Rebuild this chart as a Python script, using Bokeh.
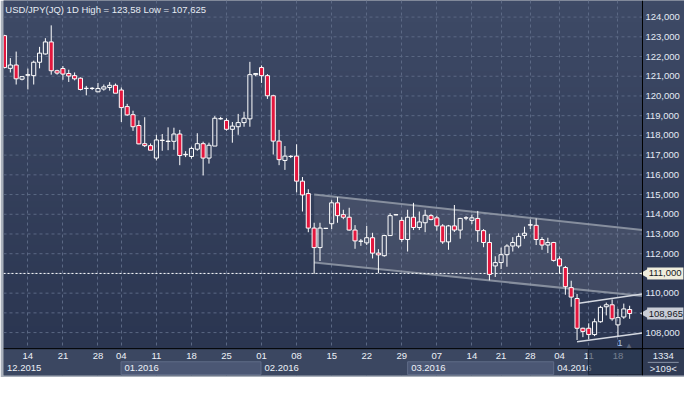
import numpy as np
from bokeh.plotting import figure
from bokeh.models import Range1d, FixedTicker, Span, Label
from bokeh.core.properties import value
from bokeh.embed import file_html
from bokeh.resources import INLINE

# ---------------- data ----------------
opens = [123.06, 121.40, 121.57, 120.85, 121.05, 121.03, 121.71, 122.13, 122.74, 121.28,
         121.39, 121.14, 121.03, 120.90, 120.38, 120.38, 120.21, 120.35, 120.43, 120.54,
         120.30, 119.46, 119.05, 118.50, 117.58, 117.48, 116.85, 117.74, 117.69, 117.70,
         118.07, 117.02, 116.93, 117.30, 117.58, 116.85, 117.46, 118.84, 118.76, 118.31,
         118.44, 118.65, 118.84, 121.08, 121.44, 121.03, 120.01, 117.71, 116.73, 116.93,
         116.95, 115.68, 115.05, 113.30, 112.31, 113.28, 113.52, 114.58, 113.98, 113.85,
         113.20, 112.63, 112.55, 112.81, 112.03, 111.90, 112.92, 113.97, 113.69, 112.72,
         113.85, 113.33, 113.57, 113.93, 113.82, 113.41, 112.60, 113.41, 113.20, 113.81,
         113.69, 113.79, 113.17, 112.57, 111.38, 111.55, 111.95, 112.39, 112.39, 112.93,
         113.45, 113.44, 112.72, 112.44, 112.57, 111.74, 111.30, 110.28, 109.73, 108.22,
         108.22, 107.90, 108.55, 109.31, 109.41, 108.39, 108.79, 109.17]
highs = [123.10, 121.92, 122.25, 120.98, 121.39, 121.79, 122.49, 122.93, 123.58, 121.33,
         121.52, 121.33, 121.19, 120.94, 120.51, 120.45, 120.66, 120.58, 120.70, 120.63,
         120.43, 119.60, 119.25, 118.76, 118.92, 117.59, 118.03, 118.07, 118.41, 118.39,
         118.28, 117.20, 117.43, 118.11, 117.68, 117.63, 118.98, 118.94, 118.87, 118.68,
         119.09, 119.20, 121.73, 121.14, 121.55, 121.11, 120.06, 118.28, 117.46, 117.00,
         117.55, 115.89, 115.27, 113.57, 113.57, 113.30, 114.71, 114.87, 114.23, 114.33,
         113.45, 112.75, 113.41, 113.06, 112.23, 112.96, 114.05, 114.00, 113.85, 114.23,
         114.58, 114.14, 114.23, 114.00, 113.93, 113.50, 113.46, 114.47, 113.82, 113.90,
         113.98, 114.17, 113.25, 113.01, 111.87, 112.31, 112.48, 112.84, 113.04, 113.37,
         113.74, 113.79, 112.84, 112.81, 112.60, 111.87, 111.38, 110.63, 109.96, 108.25,
         108.47, 108.71, 109.36, 109.52, 109.68, 109.20, 109.47, 109.36]
lows = [121.40, 121.19, 120.58, 120.79, 120.33, 120.58, 121.40, 122.10, 121.08, 121.08,
        120.82, 120.71, 120.79, 120.28, 120.03, 120.30, 120.21, 120.27, 120.27, 120.14,
        118.68, 118.99, 118.23, 117.55, 117.41, 117.25, 116.73, 117.22, 117.25, 117.27,
        116.49, 116.90, 116.82, 117.22, 115.97, 116.57, 117.46, 118.80, 118.24, 117.63,
        118.03, 118.44, 118.44, 121.00, 120.66, 119.85, 117.03, 116.49, 116.25, 116.85,
        115.11, 114.14, 113.09, 110.98, 111.63, 113.25, 113.25, 113.57, 113.75, 113.17,
        112.25, 112.40, 112.44, 111.76, 111.01, 111.85, 112.90, 113.95, 112.60, 112.11,
        113.20, 113.20, 113.09, 113.69, 113.17, 112.50, 112.20, 113.10, 112.76, 113.70,
        113.50, 112.60, 112.33, 110.65, 110.82, 111.22, 111.34, 112.11, 112.28, 112.76,
        113.25, 112.44, 112.20, 112.03, 111.60, 110.98, 109.92, 109.31, 107.625, 107.77,
        107.66, 107.82, 108.50, 108.87, 108.60, 107.82, 108.70, 108.70]
closes = [121.44, 121.57, 120.87, 120.98, 121.08, 121.71, 122.17, 122.74, 121.28, 121.16,
          121.11, 121.01, 120.87, 120.33, 120.39, 120.39, 120.38, 120.46, 120.54, 120.14,
          119.41, 119.04, 118.44, 117.57, 117.48, 117.25, 117.77, 117.76, 117.71, 118.07,
          116.98, 117.04, 117.34, 117.58, 116.85, 117.50, 118.87, 118.85, 118.31, 118.47,
          118.65, 118.87, 121.08, 121.14, 121.03, 120.01, 117.71, 116.77, 116.95, 116.94,
          115.68, 114.98, 113.30, 112.31, 113.30, 113.29, 114.58, 113.93, 113.85, 113.20,
          112.65, 112.64, 112.81, 112.03, 111.94, 112.92, 113.93, 113.98, 112.72, 113.85,
          113.33, 113.61, 113.95, 113.74, 113.41, 112.60, 113.41, 113.20, 113.79, 113.82,
          113.82, 113.17, 112.57, 110.95, 111.55, 111.95, 112.39, 112.57, 112.88, 113.04,
          113.47, 112.72, 112.44, 112.57, 111.66, 111.38, 110.33, 109.80, 108.22, 108.06,
          107.90, 108.55, 109.28, 109.41, 108.70, 108.76, 109.20, 108.965]

day_ticks = [4, 10, 16, 20, 26, 32, 38, 44, 50, 56, 62, 68, 74, 80, 85, 90, 95, 100, 105]
day_labels = ["14", "21", "28", "04", "11", "18", "25", "01", "08", "15", "22", "29",
              "07", "14", "21", "28", "04", "11", "18"]
month_starts = [-0.17, 19.95, 43.9, 69.0, 94.0]
month_labels = ["12.2015", "01.2016", "02.2016", "03.2016", "04.2016"]
price_ticks = list(range(108, 125))
price_labels = [f"{t},000" for t in price_ticks]

level_line = 111.0
last_price = 108.965
tag_values = [level_line, last_price]
tag_texts = ["111,000", "108,965"]
tag_colors = ["#efeddd", "#c9cdd6"]
bars_count = "1334"
bars_range = ">109<"

chan_x = [53.0, 109.2]
chan_upper = [115.00, 113.20]
chan_lower = [111.55, 109.85]
small_x = [98.0, 109.2]
small_upper = [109.47, 109.96]
small_lower = [107.53, 107.98]

# ---------------- figure ----------------
X0, X1, XR = -0.17, 109.2, 116.39          # left edge, price-axis line, right edge
YB, YS, YT = 105.824, 107.186, 124.841      # bottom, date-strip top, top

FONT = "Liberation Sans"
p = figure(width=684, height=377, x_range=Range1d(X0, XR), y_range=Range1d(YB, YT),
           x_axis_location=None, y_axis_location=None, toolbar_location=None,
           output_backend="svg", min_border_left=3, min_border_right=0,
           min_border_top=0, min_border_bottom=2)
p.background_fill_color = "#34405b"
p.border_fill_color = "#a9b0bb"
p.outline_line_color = None

# gradient background
n = 64
img = np.empty((n, 2), dtype=np.uint32)
view = img.view(dtype=np.uint8).reshape((n, 2, 4))
top_c = np.array([62, 74, 102])
bot_c = np.array([43, 54, 81])
for i in range(n):
    t = i / (n - 1)
    c = bot_c + (top_c - bot_c) * t
    view[i, :, 0] = int(c[0]); view[i, :, 1] = int(c[1]); view[i, :, 2] = int(c[2]); view[i, :, 3] = 255
p.image_rgba(image=[img], x=X0, y=YS, dw=XR - X0, dh=YT - YS, level="image")

# grids
p.ygrid.visible = False
p.xgrid.ticker = FixedTicker(ticks=day_ticks)
p.xgrid.grid_line_color = "#5b6884"
p.xgrid.grid_line_dash = "3 3"
p.segment(x0=X0, y0=price_ticks, x1=X1, y1=price_ticks, line_color="#5b6884",
          line_dash="3 3", line_width=1)

# price axis labels
p.text(x=109.7, y=price_ticks, text=price_labels, text_font=value(FONT),
       text_font_size="9.5px", text_color="#e4eaf4", text_align="left", text_baseline="middle")

# channel
p.varea(x=chan_x, y1=chan_lower, y2=chan_upper, fill_color="#b4b8c0", fill_alpha=0.15)
p.line(chan_x, chan_upper, line_color="#9aa1ae", line_width=2, line_alpha=0.8)
p.line(chan_x, chan_lower, line_color="#9aa1ae", line_width=2, line_alpha=0.8)
p.line(small_x, small_upper, line_color="#d4d8e0", line_width=1.5)
p.line(small_x, small_lower, line_color="#d4d8e0", line_width=1.5)

# level line
p.segment(x0=X0, y0=level_line, x1=X1, y1=level_line, line_color="white",
          line_dash="2 2", line_width=1)

# candles
xs = list(range(len(opens)))
btop = [max(o, c) for o, c in zip(opens, closes)]
bbot = [min(o, c) for o, c in zip(opens, closes)]
p.segment(xs, highs, xs, btop, line_color="white", line_width=1)
p.segment(xs, bbot, xs, lows, line_color="white", line_width=1)
up = [i for i in xs if closes[i] >= opens[i]]
dn = [i for i in xs if closes[i] < opens[i]]
p.vbar(x=up, top=[btop[i] for i in up], bottom=[bbot[i] for i in up], width=0.7,
       fill_color=None, line_color="white", line_width=1)
p.vbar(x=dn, top=[btop[i] for i in dn], bottom=[bbot[i] for i in dn], width=0.7,
       fill_color="#e3173e", line_color="white", line_width=1)

# marker near the end
p.text(x=[105.35], y=[107.45], text=["1"], text_font=value(FONT), text_font_size="9.5px",
       text_color="#a9c8ee", text_align="center", text_baseline="middle")
p.text(x=[106.9], y=[107.33], text=["▲"], text_font=value("DejaVu Sans"), text_font_size="7px",
       text_color="#5b6579", text_align="center", text_baseline="middle")

# date strip
p.quad(left=X0, right=X1, bottom=YB, top=YS, fill_color="#3b4761", line_color=None)
p.quad(left=X1, right=XR, bottom=YB, top=YS, fill_color="#303b54", line_color=None)
band_bot, band_top = 105.87, 106.52
p.quad(left=[month_starts[1], month_starts[3]], right=[month_starts[2], month_starts[4]],
       bottom=band_bot, top=band_top, fill_color="#4b5774", line_color="#606c88", line_width=1)
p.text(x=day_ticks, y=106.80, text=day_labels, text_font=value(FONT), text_font_size="9.5px",
       text_color="#edf1f7", text_align="center", text_baseline="middle")
p.text(x=[m + 0.6 for m in month_starts], y=106.18, text=month_labels, text_font=value(FONT),
       text_font_size="9.5px", text_color="#edf1f7", text_align="left", text_baseline="middle")
p.quad(left=99.95, right=X1 - 0.1, bottom=105.87, top=107.15, fill_color="#223047",
       fill_alpha=0.6, line_color="#1d273a", line_width=1)

# separators (axis lines)
p.add_layout(Span(location=YS, dimension="width", line_color="black", line_width=1))
p.add_layout(Span(location=X1, dimension="height", line_color="black", line_width=1))

# title
p.add_layout(Label(x=0.15, y=124.40, text="USD/JPY(JQ) 1D High = 123,58 Low = 107,625",
                   text_font=FONT, text_font_size="9.5px", text_color="#e6ebf3",
                   text_baseline="middle", text_align="left"))

# price tags on the price axis
p.rect(x=113.1, y=tag_values, width=6.2, height=12, height_units="screen",
       fill_color=tag_colors, line_color=None)
p.scatter(x=109.85, y=tag_values, marker="triangle", angle=np.pi / 2, size=11,
          fill_color=tag_colors, line_color=None)
p.text(x=110.25, y=tag_values, text=tag_texts, text_font=value(FONT), text_font_size="9.5px",
       text_color="#15181e", text_align="left", text_baseline="middle")

# bottom-right box
p.text(x=112.75, y=[106.80, 106.17], text=[bars_count, bars_range], text_font=value(FONT),
       text_font_size="9.5px", text_color="#e4eaf4", text_align="center", text_baseline="middle")
p.segment(x0=110.1, y0=106.49, x1=115.4, y1=106.49, line_color="#8892a6", line_width=1)

open("out.html", "w").write(file_html(p, INLINE))
